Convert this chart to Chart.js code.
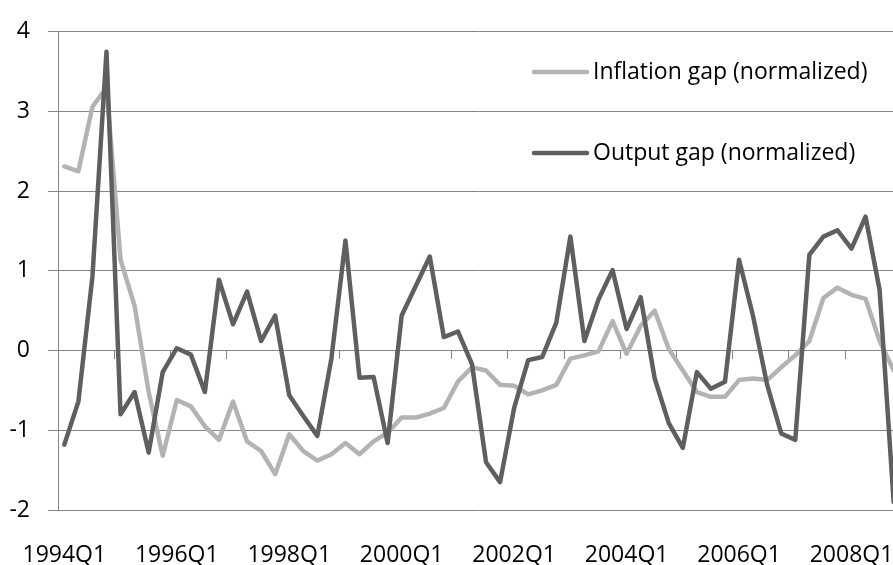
<!DOCTYPE html>
<html>
<head>
<meta charset="utf-8">
<script src="https://cdn.jsdelivr.net/npm/chart.js@4"></script>
<style>
  html, body { margin: 0; padding: 0; background: #fff; overflow: hidden; }
  #gapChart { display: block; }
</style>
</head>
<body>
<canvas id="gapChart" width="910" height="565"></canvas>
<script>
// quarters 1994Q1 .. 2008Q4
const quarters = [];
for (let yr = 1994; yr <= 2008; yr++) {
  for (let q = 1; q <= 4; q++) quarters.push(yr + 'Q' + q);
}
const labelEvery = 8;   // one label every two years
const tickEvery = 4;    // a tick mark every year

const inflationGap = [
  2.31, 2.25, 3.06, 3.30, 1.14, 0.56, -0.52, -1.32, -0.62, -0.70,
  -0.95, -1.12, -0.64, -1.14, -1.26, -1.55, -1.05, -1.26, -1.38, -1.30,
  -1.16, -1.30, -1.14, -1.03, -0.84, -0.84, -0.79, -0.72, -0.39, -0.21,
  -0.25, -0.43, -0.44, -0.55, -0.50, -0.43, -0.10, -0.06, -0.01, 0.37,
  -0.04, 0.31, 0.50, 0.02, -0.25, -0.52, -0.58, -0.58, -0.37, -0.35,
  -0.37, -0.21, -0.06, 0.12, 0.66, 0.79, 0.70, 0.65, 0.12, -0.25
];
const outputGap = [
  -1.18, -0.64, 0.93, 3.75, -0.80, -0.52, -1.28, -0.27, 0.03, -0.05,
  -0.52, 0.89, 0.33, 0.74, 0.12, 0.44, -0.56, -0.82, -1.07, -0.10,
  1.38, -0.34, -0.33, -1.16, 0.44, 0.81, 1.18, 0.17, 0.24, -0.17,
  -1.40, -1.65, -0.72, -0.12, -0.08, 0.35, 1.43, 0.12, 0.64, 1.01,
  0.27, 0.67, -0.35, -0.91, -1.22, -0.27, -0.48, -0.39, 1.14, 0.43,
  -0.43, -1.04, -1.12, 1.20, 1.43, 1.51, 1.28, 1.68, 0.76, -1.90
];
const yTicks = [-2, -1, 0, 1, 2, 3, 4];

const FONT = '"Open Sans", "Noto Sans", sans-serif';
const GRID = '#868686';
const xMin = -0.45, xMax = 59.45;

function toPoints(arr) {
  return arr.map((v, i) => ({ x: i, y: v }));
}

// legend drawn inside the plot, upper right
const insideLegend = {
  id: 'insideLegend',
  afterDraw(chart) {
    const ctx = chart.ctx;
    ctx.save();
    ctx.font = '23px ' + FONT;
    ctx.textBaseline = 'middle';
    ctx.textAlign = 'left';
    chart.data.datasets.forEach((ds, k) => {
      const y = 72 + k * 81;
      ctx.strokeStyle = ds.borderColor;
      ctx.lineWidth = 4.5;
      ctx.lineCap = 'round';
      ctx.beginPath();
      ctx.moveTo(534, y);
      ctx.lineTo(587, y);
      ctx.stroke();
      ctx.fillStyle = '#000';
      ctx.fillText(ds.label, 593, y);
    });
    ctx.restore();
  }
};

new Chart(document.getElementById('gapChart'), {
  type: 'line',
  data: {
    datasets: [
      {
        label: 'Inflation gap (normalized)',
        data: toPoints(inflationGap),
        borderColor: '#b3b3b3',
        borderWidth: 4.5,
        pointRadius: 0,
        borderJoinStyle: 'round',
        borderCapStyle: 'round',
        order: 1
      },
      {
        label: 'Output gap (normalized)',
        data: toPoints(outputGap),
        borderColor: '#5f5f5f',
        borderWidth: 4.5,
        pointRadius: 0,
        borderJoinStyle: 'round',
        borderCapStyle: 'round',
        order: 0
      }
    ]
  },
  options: {
    responsive: false,
    animation: false,
    devicePixelRatio: 1,
    layout: { padding: { left: 0, top: 26, right: 10, bottom: 0 } },
    plugins: {
      legend: { display: false },
      tooltip: { enabled: false }
    },
    scales: {
      x: {
        type: 'linear',
        position: 'bottom',
        min: xMin,
        max: xMax,
        grid: { display: false, drawTicks: false },
        border: { display: false },
        afterBuildTicks: (scale) => {
          const t = [];
          for (let i = 0; i < quarters.length; i += labelEvery) t.push({ value: i });
          scale.ticks = t;
        },
        afterFit: (scale) => {
          scale.height = 55;
          scale.paddingLeft = 0;
          scale.paddingRight = 0;
        },
        ticks: {
          autoSkip: false,
          maxRotation: 0,
          padding: 32,
          color: '#000',
          font: { family: FONT, size: 23 },
          callback: (v) => quarters[v]
        }
      },
      xTicks: {
        axis: 'x',
        type: 'linear',
        position: { y: 0 },
        min: xMin,
        max: xMax,
        grid: { drawOnChartArea: false, drawTicks: true, tickLength: 8, color: GRID, lineWidth: 1 },
        border: { display: false },
        ticks: { display: false },
        afterBuildTicks: (scale) => {
          const t = [];
          for (let v = xMin; v <= xMax; v += tickEvery) t.push({ value: v });
          scale.ticks = t;
        }
      },
      y: {
        min: -2,
        max: 4,
        afterBuildTicks: (scale) => {
          scale.ticks = yTicks.map(v => ({ value: v }));
        },
        afterFit: (scale) => { scale.width = 58; },
        grid: { color: GRID, lineWidth: 1, tickLength: 10 },
        border: { display: true, color: GRID, width: 1 },
        ticks: {
          padding: 18,
          color: '#000',
          font: { family: FONT, size: 23 },
          callback: (v) => String(v)
        }
      }
    }
  },
  plugins: [insideLegend]
});
</script>
</body>
</html>
